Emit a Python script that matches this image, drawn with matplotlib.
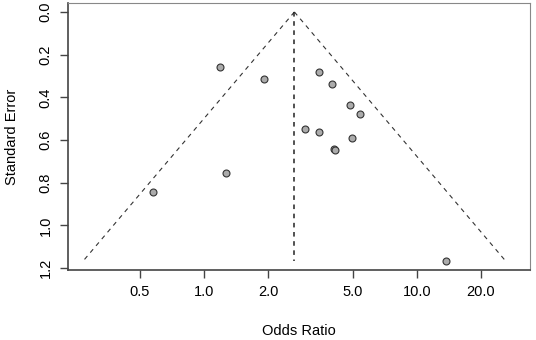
import numpy as np
import matplotlib.pyplot as plt
from matplotlib.ticker import FixedLocator, FixedFormatter, NullLocator

plt.rcParams['font.family'] = ['Liberation Sans', 'DejaVu Sans']

# study estimates (odds ratio) and standard errors
odds_ratio = [1.19, 1.91, 3.48, 4.01, 4.84, 5.41, 2.97, 3.48, 4.96, 4.10, 4.14, 1.27, 0.574, 13.8]
std_error = [0.256, 0.313, 0.283, 0.339, 0.436, 0.477, 0.547, 0.563, 0.592, 0.643, 0.646, 0.756, 0.845, 1.168]
pooled_or = 2.66

xticks = [0.5, 1.0, 2.0, 5.0, 10.0, 20.0]
xticklabels = ['0.5', '1.0', '2.0', '5.0', '10.0', '20.0']
yticks = [0.0, 0.2, 0.4, 0.6, 0.8, 1.0, 1.2]
yticklabels = ['0.0', '0.2', '0.4', '0.6', '0.8', '1.0', '1.2']

fig = plt.figure(figsize=(5.36, 3.4), dpi=100)
ax = fig.add_axes([68 / 536, 1 - 270 / 340, 462 / 536, 267 / 340])

se_max = max(std_error)
se_line = np.array([0.0, se_max])
b = np.log(pooled_or)
ax.plot(np.exp(b - 1.96 * se_line), se_line, ls=(0, (4, 4)), color='#333333', lw=0.8)
ax.plot(np.exp(b + 1.96 * se_line), se_line, ls=(0, (4, 4)), color='#333333', lw=0.8)
ax.plot([pooled_or, pooled_or], [0, se_max], ls=(0, (3, 3)), color='#222222', lw=1.1)

ax.plot(odds_ratio, std_error, 'o', ms=5, mfc='#ababab', mec='#333333', mew=0.8, ls='none')

ax.set_xscale('log')
ax.set_xlim(0.2293, 34.1)
ax.set_ylim(1.209, -0.042)

ax.xaxis.set_major_locator(FixedLocator(xticks))
ax.xaxis.set_major_formatter(FixedFormatter(xticklabels))
ax.xaxis.set_minor_locator(NullLocator())
ax.yaxis.set_major_locator(FixedLocator(yticks))
ax.yaxis.set_major_formatter(FixedFormatter(yticklabels))

ax.tick_params(axis='both', labelsize=10.5, length=6, width=1, color='#444444', pad=5)
plt.setp(ax.get_yticklabels(), rotation=90, va='center')

for s in ['top', 'right']:
    ax.spines[s].set_color('#888888')
for s in ['left', 'bottom']:
    ax.spines[s].set_color('#444444')
    ax.spines[s].set_linewidth(1.2)

ax.set_xlabel('Odds Ratio', fontsize=10.5, labelpad=18)
ax.set_ylabel('Standard Error', fontsize=10.5, labelpad=14)

fig.savefig('out.png', dpi=100)
